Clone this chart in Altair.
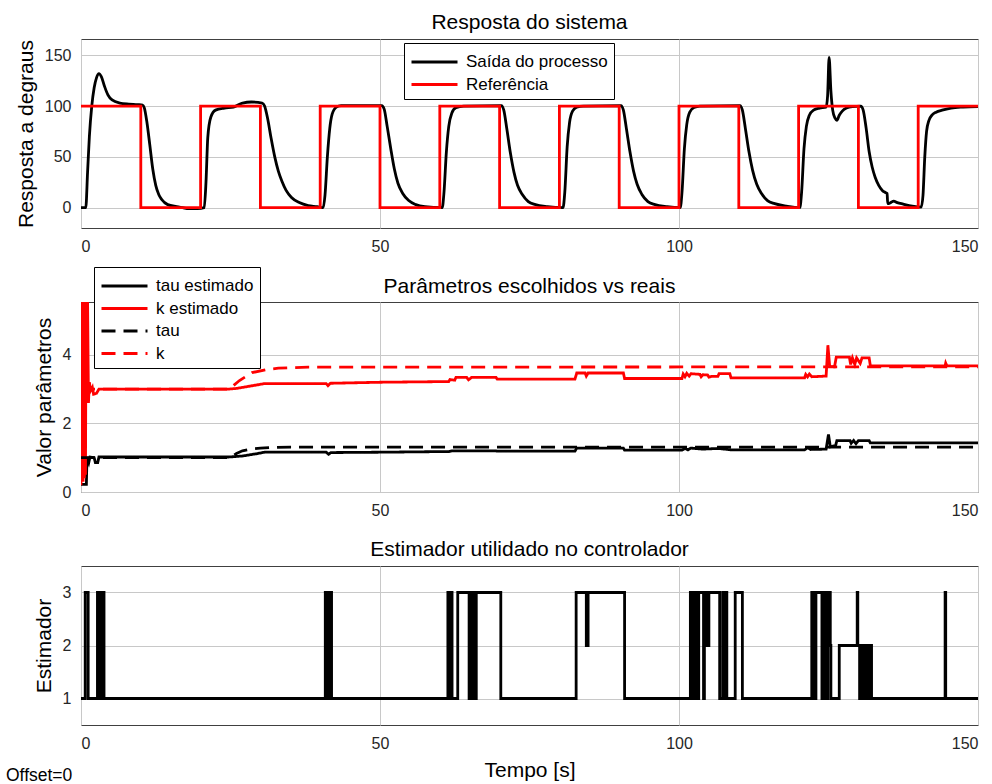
import altair as alt
import pandas as pd

FONT = "Liberation Sans"

# ---------------- Resposta do sistema ----------------
ref_t = [0, 10, 20, 30, 40, 50, 60, 70, 80, 90, 100, 110, 120, 130, 140, 150]
ref_v = [100, 0, 100, 0, 100, 0, 100, 0, 100, 0, 100, 0, 100, 0, 100, 100]

out_t = [0, 0.8, 1.1, 1.4, 1.8, 2.2, 2.6, 3.0, 3.4, 3.9, 4.5, 5.2, 6.5, 8.0, 9.5, 10.3,
         10.6, 11.0, 11.5, 12.0, 12.5, 13.0, 13.5, 14.5, 16.0, 17.0, 18.0, 19.5,
         20.6, 20.9, 21.2, 21.7, 22.5, 24.0, 25.5, 27.0, 28.5, 30.3,
         30.7, 31.2, 31.8, 32.4, 33.0, 33.6, 34.3, 35.2, 36.5, 38.0, 39.5,
         40.5, 40.8, 41.2, 41.6, 42.0, 42.7, 43.5, 50.3,
         50.7, 51.2, 51.8, 52.4, 53.0, 53.8, 54.8, 56.0, 57.5,
         60.4, 60.7, 61.1, 61.5, 62.0, 62.7, 64.0, 70.3,
         70.7, 71.2, 71.8, 72.4, 73.0, 73.8, 74.8, 76.0, 78.0,
         80.6, 80.9, 81.3, 81.7, 82.2, 82.9, 84.0, 90.3,
         90.7, 91.2, 91.8, 92.4, 93.0, 93.8, 94.8, 96.0, 98.0,
         100.2, 100.5, 100.9, 101.3, 101.8, 102.5, 103.5, 110.2,
         110.6, 111.1, 111.7, 112.3, 113.0, 113.8, 114.8, 116.0, 118.0,
         120.2, 120.5, 120.9, 121.3, 121.8, 122.5, 123.5, 124.6,
         124.85, 125.1, 125.4, 125.7, 126.1, 126.4, 126.8, 127.3, 128.0, 129.0, 130.4,
         130.8, 131.3, 131.8, 132.3, 132.8, 133.4, 134.0, 134.5, 134.8, 134.9,
         135.4, 135.9, 136.5, 137.5, 139.0, 140.5,
         140.8, 141.1, 141.4, 141.8, 142.3, 143.0, 144.0, 145.5, 147.5, 150.0]
out_v = [0, 0, 35, 70, 100, 118, 128, 132, 129, 120, 111, 106, 103, 102, 101.5, 101,
         98, 85, 62, 38, 22, 13, 8, 3, 1, 0, -1, -1,
         0, 25, 69, 89, 96, 98, 99, 103, 104, 103,
         100, 88, 68, 50, 36, 26, 17, 10, 5, 2, 1,
         0, 12, 50, 78, 92, 99, 100.5, 100.5,
         97, 80, 58, 38, 24, 14, 7, 3, 1,
         0, 15, 55, 80, 93, 98.5, 100, 100.5,
         96, 78, 54, 35, 22, 13, 6, 3, 1,
         0, 15, 60, 84, 95, 99, 100, 100.5,
         96, 78, 55, 36, 23, 13, 6, 3, 1,
         0, 15, 58, 82, 94, 98.5, 100, 100.5,
         96, 78, 55, 37, 23, 14, 7, 4, 1.5,
         0, 15, 58, 80, 91, 96, 98, 99,
         110, 148, 115, 96, 88, 86, 91, 95, 98, 99.5, 100,
         96, 78, 55, 40, 30, 22, 17, 15, 14, 4,
         5, 6.5, 5, 3.5, 1.5, 0.5,
         12, 50, 75, 86, 91, 94, 96, 98, 99, 99.5]

# ---------------- Parâmetros escolhidos vs reais ----------------
k_est_t = [0, 0.05, 0.15, 0.25, 0.35, 0.45, 0.55, 0.65, 0.75, 0.85, 1.0, 1.1, 1.25, 1.4,
           1.6, 1.9, 2.1, 2.6, 3.0, 24.7, 26.0, 28.0, 30.7, 41.0, 41.3, 41.7, 50.0,
           61.5, 61.7, 62.5, 62.7, 64.5, 64.8, 65.3, 69.4, 69.6, 82.6, 82.9, 84.3,
           84.5, 84.8, 90.7, 90.9, 100.5, 100.7, 101.0, 101.3, 101.7, 102.0, 103.5,
           103.7, 104.0, 104.8, 105.0, 105.4, 106.5, 106.7, 108.5, 108.7, 121.0,
           121.2, 121.5, 121.8, 122.2, 124.6, 124.9, 125.2, 126.0, 126.3, 128.5,
           128.7, 129.0, 129.4, 129.7, 130.3, 130.6, 131.8, 132.0, 144.5, 144.6,
           144.8, 150.0]
k_est_v = [0.2, 5.6, 0.3, 5.6, 0.3, 5.6, 0.4, 5.6, 0.5, 5.6, 2.7, 5.6, 2.6, 3.2,
           2.95, 3.05, 2.85, 2.88, 3.0, 3.0, 3.02, 3.08, 3.16, 3.16, 3.1, 3.17, 3.2,
           3.22, 3.28, 3.26, 3.34, 3.34, 3.27, 3.34, 3.34, 3.29, 3.29, 3.47, 3.47,
           3.38, 3.47, 3.47, 3.31, 3.31, 3.44, 3.36, 3.46, 3.38, 3.45, 3.43,
           3.36, 3.42, 3.41, 3.35, 3.37, 3.37, 3.45, 3.45, 3.33, 3.33,
           3.43, 3.36, 3.44, 3.36, 3.38, 4.28, 3.66, 3.65, 3.93, 3.93,
           3.72, 3.91, 3.72, 3.91, 3.75, 3.91, 3.91, 3.68, 3.68, 3.76,
           3.68, 3.68]

tau_est_t = [0, 0.9, 1.0, 1.3, 1.5, 2.2, 2.4, 2.8, 3.0, 24.7, 27.0, 29.5, 30.7, 41.0,
             41.4, 41.8, 50.0, 61.5, 62.0, 69.4, 69.6, 82.6, 82.9, 90.7, 90.9, 100.5,
             101.0, 101.5, 102.0, 104.0, 106.6, 108.7, 121.0, 121.5, 122.0, 124.6,
             125.0, 125.3, 126.2, 126.4, 128.6, 128.8, 129.2, 129.6, 130.0, 131.8,
             132.0, 150.0]
tau_est_v = [0.22, 0.22, 1.02, 0.86, 1.02, 1.0, 0.86, 0.86, 1.02, 1.02, 1.05, 1.12, 1.16, 1.16,
             1.1, 1.15, 1.16, 1.18, 1.2, 1.2, 1.19, 1.19, 1.28, 1.28, 1.22, 1.22,
             1.27, 1.23, 1.28, 1.25, 1.27, 1.23, 1.23, 1.29, 1.24, 1.25,
             1.68, 1.32, 1.36, 1.5, 1.5, 1.42, 1.5, 1.41, 1.5, 1.5,
             1.43, 1.43]

k_t = [0, 24.8, 26.5, 28.6, 31.0, 33.0, 38.0, 150.0]
k_v = [3.0, 3.0, 3.25, 3.48, 3.57, 3.61, 3.64, 3.65]

tau_t = [0, 24.8, 26.0, 27.0, 28.6, 30.0, 32.0, 35.0, 150.0]
tau_v = [1.0, 1.0, 1.12, 1.2, 1.26, 1.28, 1.3, 1.31, 1.31]

# ---------------- Estimador utilidado no controlador ----------------
est_t = [0, 0.7, 1.2,
         2.75, 2.9, 3.0, 3.15, 3.25, 3.4, 3.5, 3.65, 3.72, 3.85,
         40.85, 41.0, 41.1, 41.25, 41.35, 41.5, 41.6, 41.75, 41.8, 41.9,
         61.35, 61.5, 61.6, 61.75, 61.85, 62.05,
         63.0, 64.9, 65.0, 65.15, 65.3, 65.45, 65.55, 65.7, 65.8, 66.0, 66.1, 70.2,
         82.8, 84.5, 84.8, 90.9,
         101.9, 102.0, 102.1, 102.2, 102.3, 102.4, 102.5, 102.6, 102.7, 102.8,
         102.9, 103.0, 103.1, 103.2, 103.3, 104.1, 104.25, 104.6, 105.0, 106.8,
         107.3, 107.4, 107.6, 107.7, 107.9, 108.0, 109.4, 110.6,
         122.2, 122.35, 122.5, 122.65, 122.9, 123.9, 124.0, 124.2, 124.3, 124.5,
         124.6, 124.8, 124.9, 125.3, 125.4, 126.8, 129.8, 129.9,
         130.2, 130.3, 130.5, 130.6, 130.9, 131.0, 131.2, 131.3, 131.5, 131.6,
         131.8, 131.9, 132.2, 144.5, 144.6, 150.0]
est_v = [1, 3, 1,
         3, 1, 3, 1, 3, 1, 3, 1, 3, 1,
         3, 1, 3, 1, 3, 1, 3, 1, 3, 1,
         3, 1, 3, 1, 3, 1,
         3, 1, 3, 1, 3, 1, 3, 1, 3, 1, 3, 1,
         3, 2, 3, 1,
         3, 1, 3, 1, 3, 1, 3, 1, 3, 1,
         3, 1, 3, 1, 3, 1, 3, 2, 3, 1,
         3, 1, 3, 1, 3, 1, 3, 1,
         3, 1, 3, 1, 3, 1, 3, 1, 3, 1,
         3, 1, 3, 2, 1, 2, 3, 2,
         1, 2, 1, 2, 1, 2, 1, 2, 1, 2,
         1, 2, 1, 3, 1, 1]

SERIES_TOP = ["Saída do processo", "Referência"]
SERIES_MID = ["tau estimado", "k estimado", "tau", "k"]

LW = 2.8
# legend swatch: a horizontal segment starting at the left edge of the entry
SWATCH = "M-1,0H3"


def frame(t, v, name):
    return pd.DataFrame({"t": t, "valor": v, "serie": name})


def legend_at(x, y, row_gap):
    return alt.Legend(orient="none", legendX=x, legendY=y, title=None,
                      symbolType=SWATCH, symbolSize=529, symbolStrokeWidth=LW,
                      labelFontSize=17, labelFont=FONT, labelColor="#000000",
                      strokeColor="#000000", fillColor="#ffffff", padding=6,
                      rowPadding=row_gap, labelOffset=30, cornerRadius=0)


x_kwargs = dict(scale=alt.Scale(domain=[0, 150], nice=False),
                axis=alt.Axis(values=[0, 50, 100, 150], title=None))

W = 897

# --- panel 1 ---
top_color = alt.Color(
    "serie:N",
    scale=alt.Scale(domain=SERIES_TOP, range=["#000000", "#ff0000"]),
    legend=legend_at(323, 4, 1.5),
)
top_y = alt.Y("valor:Q", scale=alt.Scale(domain=[-20, 166], nice=False, zero=False),
              axis=alt.Axis(values=[0, 50, 100, 150], title="Resposta a degraus"))

saida = alt.Chart(frame(out_t, out_v, SERIES_TOP[0])).mark_line(
    strokeWidth=LW, interpolate="monotone", clip=True
).encode(x=alt.X("t:Q", **x_kwargs), y=top_y, color=top_color)

referencia = alt.Chart(frame(ref_t, ref_v, SERIES_TOP[1])).mark_line(
    strokeWidth=LW, interpolate="step-after", clip=True
).encode(x=alt.X("t:Q", **x_kwargs), y=top_y, color=top_color)

painel1 = alt.layer(saida, referencia).properties(
    width=W, height=189,
    title=alt.TitleParams("Resposta do sistema"),
)

# --- panel 2 ---
mid_legend = legend_at(13, -35, 1.5)
mid_color = alt.Color("serie:N",
                      scale=alt.Scale(domain=SERIES_MID,
                                      range=["#000000", "#ff0000", "#000000", "#ff0000"]),
                      legend=mid_legend)
mid_dash = alt.StrokeDash("serie:N",
                          scale=alt.Scale(domain=SERIES_MID,
                                          range=[[1, 0], [1, 0], [14, 8], [14, 8]]),
                          legend=mid_legend)
mid_y = alt.Y("valor:Q", scale=alt.Scale(domain=[0, 5.54], nice=False),
              axis=alt.Axis(values=[0, 2, 4], title="Valor parâmetros"))


def param_line(t, v, name):
    return alt.Chart(frame(t, v, name)).mark_line(strokeWidth=LW, clip=True).encode(
        x=alt.X("t:Q", **x_kwargs), y=mid_y, color=mid_color, strokeDash=mid_dash)


painel2 = alt.layer(
    param_line(tau_est_t, tau_est_v, SERIES_MID[0]),
    param_line(k_est_t, k_est_v, SERIES_MID[1]),
    param_line(tau_t, tau_v, SERIES_MID[2]),
    param_line(k_t, k_v, SERIES_MID[3]),
).properties(width=W, height=190,
             title=alt.TitleParams("Parâmetros escolhidos vs reais", dy=36))

# --- panel 3 ---
estimador = alt.Chart(frame(est_t, est_v, "Estimador")).mark_line(
    strokeWidth=LW, interpolate="step-after", color="#000000", clip=True
).encode(
    x=alt.X("t:Q", scale=alt.Scale(domain=[0, 150], nice=False),
            axis=alt.Axis(values=[0, 50, 100, 150], title="Tempo [s]")),
    y=alt.Y("valor:Q", scale=alt.Scale(domain=[0.5, 3.5], nice=False, zero=False),
            axis=alt.Axis(values=[1, 2, 3], title="Estimador")),
)

nota = alt.Chart(pd.DataFrame({"rotulo": ["Offset=0"]})).mark_text(
    align="left", baseline="middle", fontSize=17.5, font=FONT, color="#000000"
).encode(x=alt.value(-75), y=alt.value(210), text="rotulo:N")

painel3 = alt.layer(estimador, nota).properties(
    width=W, height=159,
    title=alt.TitleParams("Estimador utilidado no controlador"),
)

chart = alt.vconcat(painel1, painel2, painel3, spacing=74, bounds="flush").resolve_scale(
    color="independent", strokeDash="independent"
).resolve_legend(
    color="independent", strokeDash="independent"
).properties(
    padding={"left": 5, "top": 11, "right": 10, "bottom": 2}
).configure_view(
    stroke="#404040", strokeWidth=1
).configure_axis(
    labelFont=FONT, labelFontSize=16, labelColor="#262626", labelPadding=10,
    titleFont=FONT, titleFontSize=21, titleFontWeight="normal", titleColor="#000000",
    titlePadding=8, grid=True, gridColor="#c8c8c8", gridWidth=1,
    domain=False, ticks=False, tickSize=0,
).configure_title(
    font=FONT, fontSize=21, fontWeight="normal", color="#000000", offset=6, anchor="middle"
).configure_legend(
    labelFont=FONT
)

chart.save("out.html", embed_options={"renderer": "svg", "actions": False})
